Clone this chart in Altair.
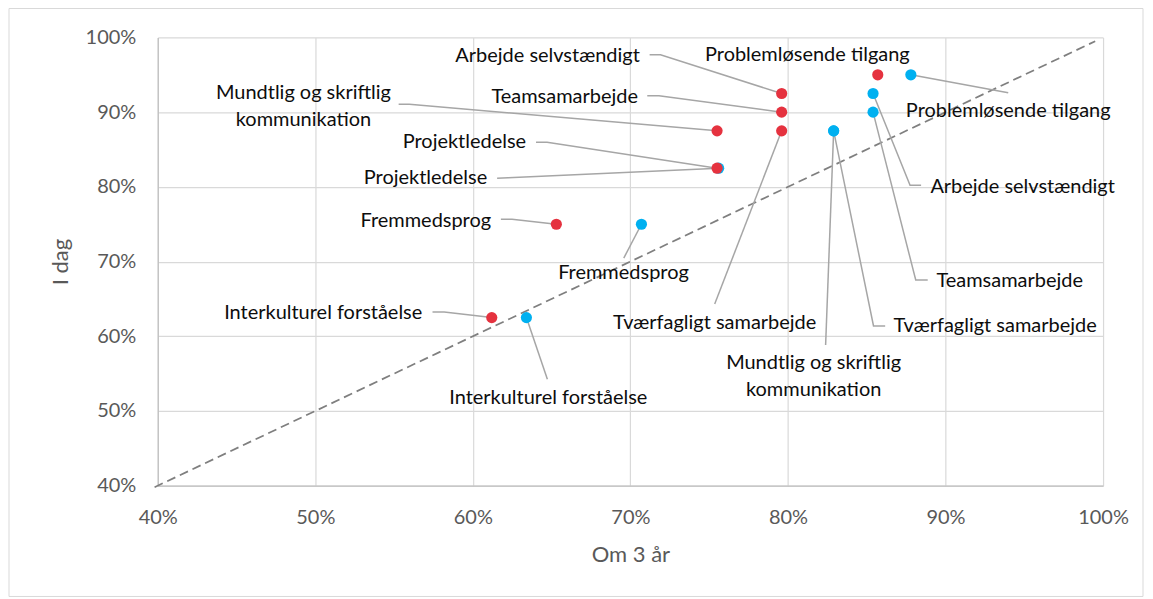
import altair as alt
import pandas as pd

# ---- data ----
categories = [
    "Problemløsende tilgang",
    "Arbejde selvstændigt",
    "Teamsamarbejde",
    "Mundtlig og skriftlig kommunikation",
    "Tværfagligt samarbejde",
    "Projektledelse",
    "Fremmedsprog",
    "Interkulturel forståelse",
]
i_dag = [0.95, 0.925, 0.90, 0.875, 0.875, 0.825, 0.75, 0.625]
om3_red = [0.857, 0.796, 0.796, 0.755, 0.796, 0.755, 0.653, 0.612]
om3_blue = [0.878, 0.854, 0.854, 0.829, 0.829, 0.756, 0.707, 0.634]

label_text = {
    "Mundtlig og skriftlig kommunikation": "Mundtlig og skriftlig\nkommunikation",
}
ticks = [0.4, 0.5, 0.6, 0.7, 0.8, 0.9, 1.0]

# ---- label layout (annotation placement, in axis units) ----
red_label_x = [0.8123, 0.7060, 0.7048, 0.4925, 0.7535, 0.6338, 0.6116, 0.5679]
red_label_y = [0.9759, 0.9746, 0.9202, 0.9252, 0.6178, 0.8597, 0.7545, 0.6312]
red_label_align = ["center", "right", "right", "center", "center", "right", "right", "right"]
red_leader = [
    [],
    [(0.7191, 0.9769), (0.7122, 0.9769)],
    [(0.7181, 0.9221), (0.7107, 0.9221)],
    [(0.5597, 0.9105), (0.5529, 0.9105)],
    [(0.7535, 0.6432)],
    [(0.6471, 0.8597), (0.6401, 0.8597)],
    [(0.6249, 0.7568), (0.6178, 0.7568)],
    [(0.5818, 0.6325), (0.5744, 0.6325)],
]
blue_label_x = [0.9398, 0.8904, 0.8942, 0.8163, 0.8670, 0.6091, 0.6956, 0.6479]
blue_label_y = [0.9015, 0.8000, 0.6743, 0.5637, 0.6138, 0.8116, 0.6850, 0.5176]
blue_label_align = ["center", "left", "left", "center", "left", "right", "center", "center"]
blue_leader = [
    [(0.9398, 0.9261)],
    [(0.8775, 0.8022), (0.8845, 0.8022)],
    [(0.8811, 0.6753), (0.8887, 0.6753)],
    [(0.8239, 0.5884)],
    [(0.8543, 0.6138), (0.8617, 0.6138)],
    [(0.6224, 0.8122), (0.6154, 0.8116)],
    [(0.6958, 0.7047)],
    [(0.6473, 0.5426)],
]
diag = [0.398, 0.995]

RED = "#E5323F"
BLUE = "#00B0F0"
FONT = "Lato"

# ---- tables ----
pts = pd.DataFrame(
    {"cat": categories * 2, "x": om3_red + om3_blue, "y": i_dag * 2,
     "serie": ["r"] * 8 + ["b"] * 8}
)
labels = pd.DataFrame(
    {
        "text": [label_text.get(c, c) for c in categories] * 2,
        "x": red_label_x + blue_label_x,
        "y": red_label_y + blue_label_y,
        "al": red_label_align + blue_label_align,
    }
)
rows = []
for s, xs, leaders in (("r", om3_red, red_leader), ("b", om3_blue, blue_leader)):
    for i, c in enumerate(categories):
        if not leaders[i]:
            continue
        rows.append({"id": f"{s}{i}", "o": 0, "x": xs[i], "y": i_dag[i]})
        for k, (lx, ly) in enumerate(leaders[i]):
            rows.append({"id": f"{s}{i}", "o": k + 1, "x": lx, "y": ly})
leader_df = pd.DataFrame(rows)
diag_df = pd.DataFrame({"x": diag, "y": diag})

xscale = alt.Scale(domain=[0.4, 1.0], nice=False, zero=False)
yscale = alt.Scale(domain=[0.4, 1.0], nice=False, zero=False)
xax = alt.Axis(title="Om 3 år", format=".0%", values=ticks, labelPadding=22,
               titlePadding=17, labelFlush=False)
yax = alt.Axis(title="I dag", format=".0%", values=ticks, labelPadding=22,
               titlePadding=13, labelFlush=False)

base_x = alt.X("x:Q", scale=xscale, axis=xax)
base_y = alt.Y("y:Q", scale=yscale, axis=yax)

frame = alt.Chart(pd.DataFrame({"a": [0]})).mark_rect(
    fillOpacity=0, stroke="#D9D9D9", strokeWidth=1
).encode(x=alt.value(-149), x2=alt.value(987), y=alt.value(-29), y2=alt.value(560))

diag_line = alt.Chart(diag_df).mark_line(
    color="#7F7F7F", strokeDash=[9, 5], strokeWidth=1.75
).encode(x=base_x, y=base_y)

leaders_layer = alt.Chart(leader_df).mark_line(
    color="#A6A6A6", strokeWidth=1.5
).encode(x="x:Q", y="y:Q", detail="id:N", order="o:Q")

blue_pts = alt.Chart(pts[pts["serie"] == "b"]).mark_circle(
    size=125, color=BLUE, opacity=1
).encode(x="x:Q", y="y:Q")
red_pts = alt.Chart(pts[pts["serie"] == "r"]).mark_circle(
    size=125, color=RED, opacity=1
).encode(x="x:Q", y="y:Q")

text_layers = []
for al in ("left", "center", "right"):
    sub = labels[labels["al"] == al]
    text_layers.append(
        alt.Chart(sub).mark_text(
            align=al, baseline="middle", font=FONT, fontSize=20,
            color="#0D0D0D", lineBreak="\n", lineHeight=27
        ).encode(x="x:Q", y="y:Q", text="text:N")
    )

chart = alt.layer(
    frame, diag_line, leaders_layer, blue_pts, red_pts, *text_layers
).properties(
    width=947, height=449,
    autosize=alt.AutoSizeParams(type="none"),
    padding={"left": 150, "top": 29, "right": 42, "bottom": 112},
    background="white",
).configure_view(stroke=None).configure_axis(
    labelFont=FONT, titleFont=FONT, labelFontSize=20, titleFontSize=22,
    labelColor="#595959", titleColor="#595959", titleFontWeight="normal",
    gridColor="#D9D9D9", gridWidth=1.2, domainColor="#BFBFBF", domainWidth=1.2,
    ticks=False,
)

chart.save("out.html", embed_options={"renderer": "svg", "actions": False})
